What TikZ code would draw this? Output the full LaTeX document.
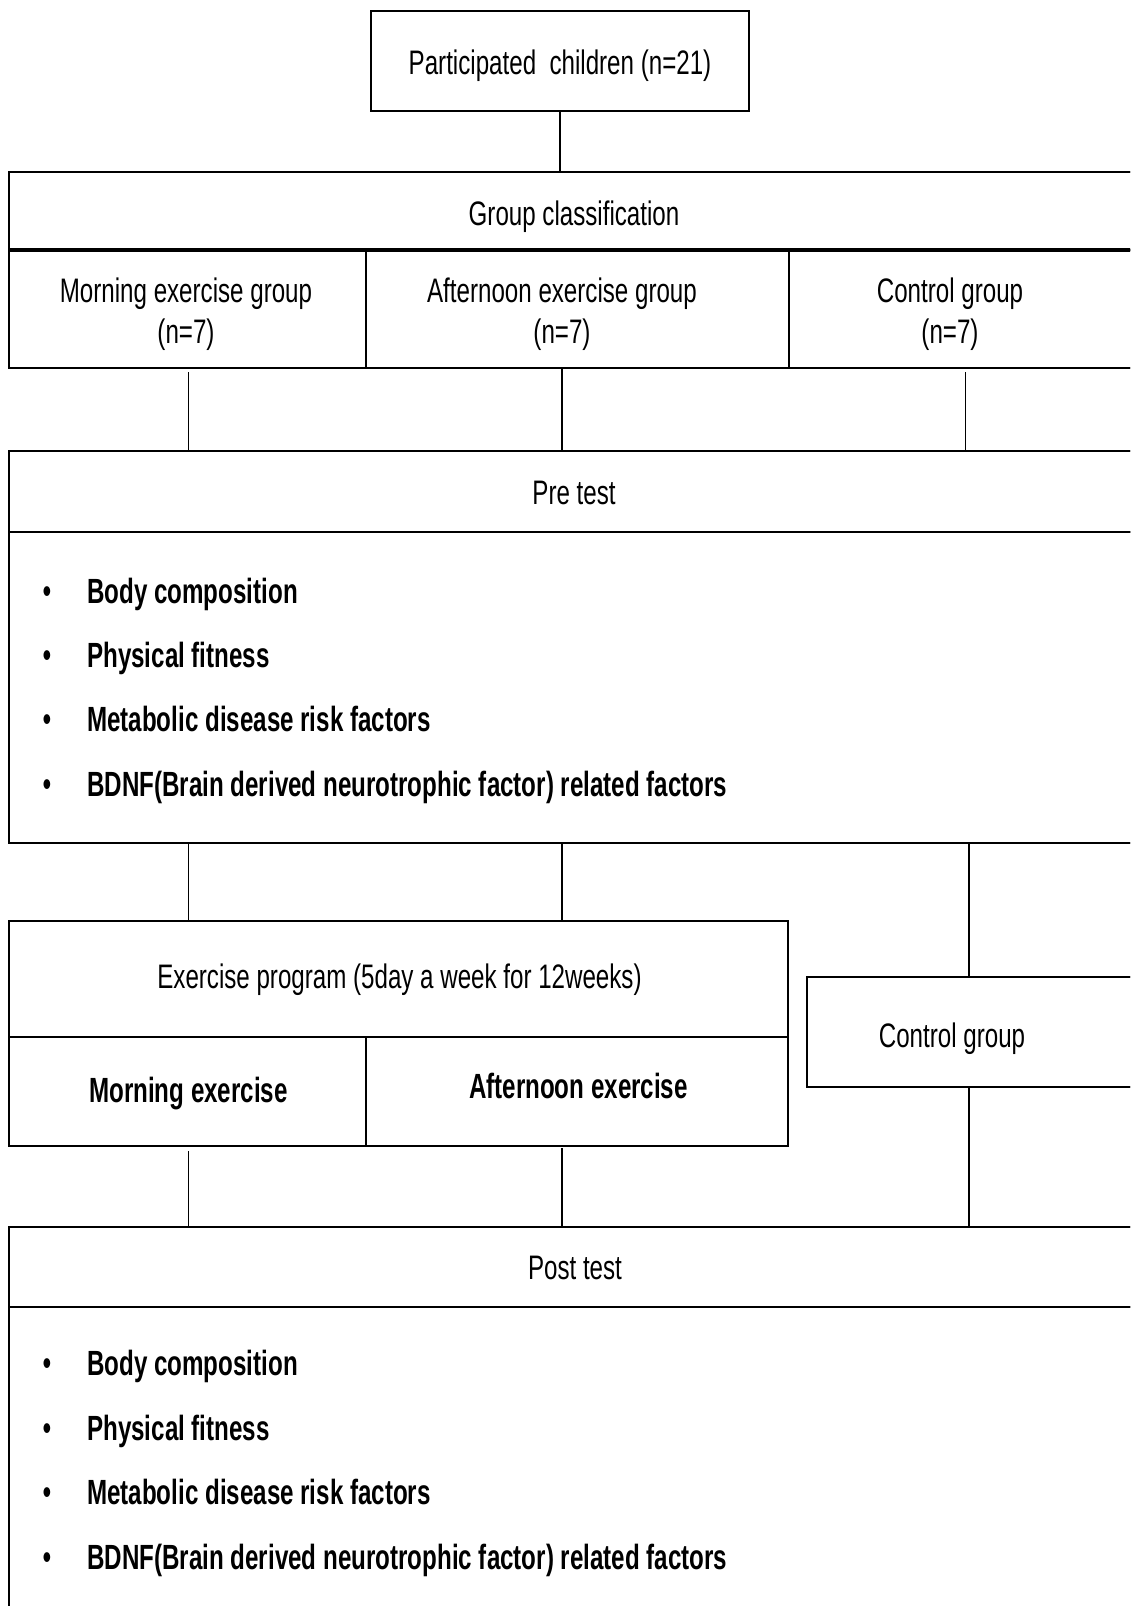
\documentclass[tikz,border=0pt]{standalone}
\usepackage{fontspec}
\newfontfamily\regfont[FakeStretch=0.71]{Liberation Sans}
\newfontfamily\bldfont[FakeStretch=0.69]{Liberation Sans}
\newcommand\myhedges[2][hline]{\draw[#1] (#2.north west) -- (#2.north east) (#2.south west) -- (#2.south east);}
\begin{document}
\begin{tikzpicture}[x=1pt,y=-1pt,
  cell/.style={draw=black, line width=1.4pt, rectangle, inner sep=0pt, outer sep=0pt, anchor=north west},
  hline/.style={line width=2.6pt, line cap=rect},
  heavy/.style={line width=4.5pt},
  conn/.style={line width=1.2pt},
  rtext/.style={font=\regfont\fontsize{34}{40}\selectfont, inner sep=0pt, anchor=base},
  btext/.style={font=\bldfont\bfseries\fontsize{35}{42}\selectfont, inner sep=0pt, anchor=base},
  item/.style={btext, anchor=base west},
  bul/.style={font=\bldfont\fontsize{36}{36}\selectfont, inner sep=0pt, anchor=base},
]
\useasboundingbox (0,0) rectangle (1130,1606);
\fill[white] (0,0) rectangle (1130,1606);
\clip (0,0) rectangle (1130,1606);

% column coordinates
\coordinate (xa) at (188.8,0);
\coordinate (xb) at (562,0);
\coordinate (xc) at (965.4,0);
\coordinate (xd) at (969,0);

% top box
\node[cell, minimum width=378pt, minimum height=100pt] (top) at (371,11) {};
\node[rtext] (topt) at (560,74) {Participated\ \ children (n=21)};

% group classification
\node[cell, minimum width=1131pt, minimum height=78pt] (gc) at (9,172) {};
\node[rtext] (gct) at (574,225) {Group classification};
\node[cell, minimum width=357pt, minimum height=118pt] (mg) at (9,250) {};
\node[cell, minimum width=423pt, minimum height=118pt] (ag) at (366,250) {};
\node[cell, minimum width=351pt, minimum height=118pt] (cg) at (789,250) {};
\node[rtext] (mgt1) at (186,302) {Morning exercise group};
\node[rtext] (mgt2) at (186,343) {(n=7)};
\node[rtext] (agt1) at (562,302) {Afternoon exercise group};
\node[rtext] (agt2) at (562,343) {(n=7)};
\node[rtext] (cgt1) at (950,302) {Control group};
\node[rtext] (cgt2) at (950,343) {(n=7)};

% pre test
\node[cell, minimum width=1131pt, minimum height=81pt] (preh) at (9,451) {};
\node[cell, minimum width=1131pt, minimum height=311pt] (preb) at (9,532) {};
\node[rtext] (pret) at (574,504) {Pre test};
\node[bul] (pb1) at (47,603) {•};
\node[bul] (pb2) at (47,667) {•};
\node[bul] (pb3) at (47,731) {•};
\node[bul] (pb4) at (47,796) {•};
\node[item] (pi1) at (87,603) {Body composition};
\node[item] (pi2) at (87,667) {Physical fitness};
\node[item] (pi3) at (87,731) {Metabolic disease risk factors};
\node[item] (pi4) at (87,796) {BDNF(Brain derived neurotrophic factor) related factors};

% exercise program
\node[cell, minimum width=779pt, minimum height=116pt] (exh) at (9,921) {};
\node[cell, minimum width=357pt, minimum height=109pt] (exm) at (9,1037) {};
\node[cell, minimum width=422pt, minimum height=109pt] (exa) at (366,1037) {};
\node[cell, minimum width=333pt, minimum height=110pt] (ctl) at (807,977) {};
\node[rtext] (exht) at (399.5,988) {Exercise program (5day a week for 12weeks)};
\node[btext] (exmt) at (188.5,1102) {Morning exercise};
\node[btext] (exat) at (578.5,1098) {Afternoon exercise};
\node[rtext] (ctlt) at (952,1047) {Control group};

% post test
\node[cell, minimum width=1131pt, minimum height=80pt] (posth) at (9,1227) {};
\node[cell, minimum width=1131pt, minimum height=320pt] (postb) at (9,1307) {};
\node[rtext] (postt) at (575,1279) {Post test};
\node[bul] (qb1) at (47,1375) {•};
\node[bul] (qb2) at (47,1440) {•};
\node[bul] (qb3) at (47,1504) {•};
\node[bul] (qb4) at (47,1569) {•};
\node[item] (qi1) at (87,1375) {Body composition};
\node[item] (qi2) at (87,1440) {Physical fitness};
\node[item] (qi3) at (87,1504) {Metabolic disease risk factors};
\node[item] (qi4) at (87,1569) {BDNF(Brain derived neurotrophic factor) related factors};

% heavier horizontal edges
\myhedges{top}
\myhedges{mg}
\myhedges{ag}
\myhedges{cg}
\myhedges{preh}
\myhedges{preb}
\myhedges{exh}
\myhedges{exm}
\myhedges{exa}
\myhedges{ctl}
\myhedges{posth}
\draw[hline] (gc.north west) -- (gc.north east);
\draw[heavy] (gc.south west) -- (gc.south east);

% connectors
\draw[conn] (top.south) -- (top.south |- gc.north);
\draw[conn, shorten <=4pt] (mg.south -| xa) -- (preh.north -| xa);
\draw[conn, shorten <=1pt] (ag.south -| xb) -- (preh.north -| xb);
\draw[conn, shorten <=4pt] (cg.south -| xc) -- (preh.north -| xc);
\draw[conn] (preb.south -| xa) -- (exh.north -| xa);
\draw[conn] (preb.south -| xb) -- (exh.north -| xb);
\draw[conn] (preb.south -| xd) -- (ctl.north -| xd);
\draw[conn, shorten <=5pt] (exm.south -| xa) -- (posth.north -| xa);
\draw[conn, shorten <=2pt] (exa.south -| xb) -- (posth.north -| xb);
\draw[conn] (ctl.south -| xd) -- (posth.north -| xd);
\end{tikzpicture}
\end{document}
